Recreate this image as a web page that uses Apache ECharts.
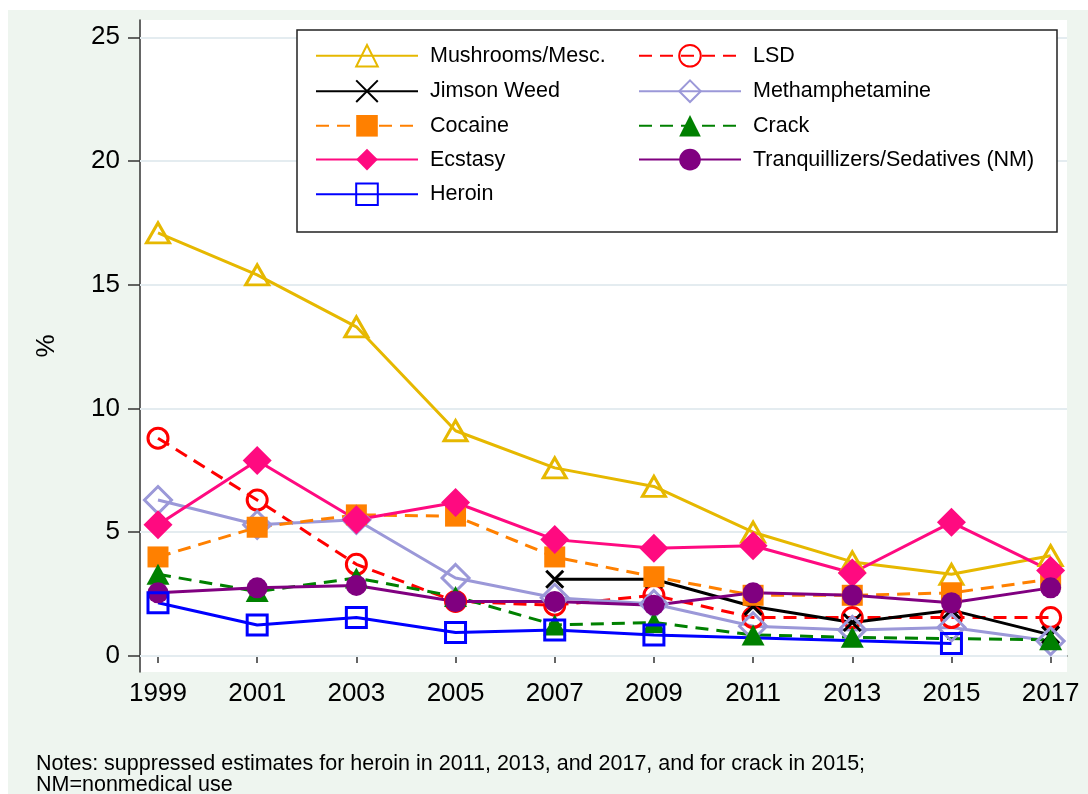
<!DOCTYPE html>
<html>
<head>
<meta charset="utf-8">
<script src="https://cdn.jsdelivr.net/npm/echarts@6/dist/echarts.min.js"></script>
<style>
  html, body { margin: 0; padding: 0; background: #fff; }
  #chart { width: 1088px; height: 794px; }
</style>
</head>
<body>
<div id="chart"></div>
<script>
// survey years and prevalence (%)
var years = [1999, 2001, 2003, 2005, 2007, 2009, 2011, 2013, 2015, 2017];
var yTicks = [0, 5, 10, 15, 20, 25];

var mushrooms = [17.1, 15.4, 13.3, 9.1, 7.6, 6.85, 5.0, 3.8, 3.3, 4.05];
var lsd       = [8.8, 6.3, 3.7, 2.2, 2.05, 2.45, 1.55, 1.55, 1.55, 1.55];
var jimson    = [null, null, null, null, 3.1, 3.1, 2.0, 1.35, 1.85, 0.85];
var meth      = [6.3, 5.3, 5.5, 3.15, 2.35, 2.1, 1.2, 1.05, 1.15, 0.6];
var cocaine   = [4.0, 5.2, 5.7, 5.65, 4.0, 3.2, 2.45, 2.45, 2.55, 3.1];
var crack     = [3.3, 2.6, 3.15, 2.4, 1.25, 1.35, 0.85, 0.75, null, 0.65];
var ecstasy   = [5.3, 7.9, 5.5, 6.2, 4.7, 4.35, 4.45, 3.35, 5.4, 3.45];
var tranq     = [2.55, 2.75, 2.85, 2.2, 2.2, 2.05, 2.55, 2.45, 2.15, 2.75];
var heroin    = [2.15, 1.25, 1.55, 0.95, 1.05, 0.85, null, null, 0.5, null];

var FONT = 'Liberation Sans, Arial, Helvetica, sans-serif';

function pairs(vals) {
    return years.map(function (y, i) { return [y, vals[i]]; });
}

function mkSeries(name, vals, color, symbol, size, hollow, dashed) {
    return {
        name: name,
        type: 'line',
        data: pairs(vals),
        connectNulls: true,
        symbol: symbol,
        symbolSize: size,
        showAllSymbol: true,
        lineStyle: { color: color, width: 3, type: dashed ? [13, 8] : 'solid' },
        itemStyle: hollow
            ? { color: 'transparent', borderColor: color, borderWidth: 3 }
            : { color: color, borderWidth: 0 },
        emphasis: { disabled: true },
        animation: false
    };
}

var chart = echarts.init(document.getElementById('chart'));

var series = [
    mkSeries('Mushrooms/Mesc.', mushrooms, '#e6b800', 'triangle', [23, 20], true, false),
    mkSeries('LSD', lsd, '#ff0000', 'circle', 20, true, true),
    mkSeries('Jimson Weed', jimson, '#000000', 'path://M0,0L10,10M10,0L0,10', 17, true, false),
    mkSeries('Methamphetamine', meth, '#9b98d8', 'diamond', 27, true, false),
    mkSeries('Cocaine', cocaine, '#ff8000', 'rect', 21, false, true),
    mkSeries('Crack', crack, '#008000', 'triangle', [23, 21], false, true),
    mkSeries('Ecstasy', ecstasy, '#ff0a80', 'diamond', 29, false, false),
    mkSeries('Tranquillizers/Sedatives (NM)', tranq, '#800080', 'circle', 21, false, false),
    mkSeries('Heroin', heroin, '#0000ff', 'rect', 20, true, false)
];

// light horizontal grid lines at the y ticks
series[0].markLine = {
    silent: true,
    symbol: 'none',
    label: { show: false },
    lineStyle: { color: '#e4ecf0', width: 2, type: 'solid' },
    z: 1,
    data: yTicks.map(function (v) { return { yAxis: v }; })
};

var legendBase = {
    orient: 'vertical',
    top: 39,
    itemWidth: 102,
    itemHeight: 27,
    itemGap: 11.8,
    z: 10,
    textStyle: { fontFamily: FONT, fontSize: 21.5, color: '#000', padding: [0, 0, 0, 7] }
};

var option = {
    backgroundColor: '#fff',
    animation: false,
    textStyle: { fontFamily: FONT },
    graphic: {
        elements: [
            { type: 'rect', z: -100, shape: { x: 8, y: 10, width: 1080, height: 784 },
              style: { fill: '#eef5ef' } },
            { type: 'rect', z: 9, shape: { x: 297, y: 30, width: 760, height: 202 },
              style: { fill: '#fff', stroke: '#222', lineWidth: 1.5 } }
        ]
    },
    title: {
        text: 'Notes: suppressed estimates for heroin in 2011, 2013, and 2017, and for crack in 2015;\nNM=nonmedical use',
        left: 36,
        top: 754,
        padding: 0,
        textStyle: { fontFamily: FONT, fontSize: 21.5, fontWeight: 'normal', color: '#000', lineHeight: 21 }
    },
    legend: [
        Object.assign({}, legendBase, { left: 310, data: ['Mushrooms/Mesc.', 'Jimson Weed', 'Cocaine', 'Ecstasy', 'Heroin'] }),
        Object.assign({}, legendBase, { left: 633, data: ['LSD', 'Methamphetamine', 'Crack', 'Tranquillizers/Sedatives (NM)'] })
    ],
    grid: {
        left: 140, right: 21, top: 20, bottom: 122,
        show: true, backgroundColor: '#fff', borderWidth: 0
    },
    xAxis: {
        type: 'value',
        min: 1998.637,
        max: 2017.33,
        axisLine: { show: true, lineStyle: { color: '#333', width: 1.5 } },
        axisTick: { show: true, length: 7, lineStyle: { color: '#333', width: 1.5 }, customValues: years },
        axisLabel: {
            customValues: years, fontSize: 26, color: '#000', margin: 9, fontFamily: FONT,
            formatter: function (v) { return String(v); }
        },
        splitLine: { show: false }
    },
    yAxis: {
        type: 'value',
        min: -0.65,
        max: 25.7,
        name: '%',
        nameLocation: 'middle',
        nameRotate: 90,
        nameGap: 80,
        nameTextStyle: { fontSize: 26, color: '#000', fontFamily: FONT },
        axisLine: { show: true, lineStyle: { color: '#333', width: 1.5 } },
        axisTick: { show: true, length: 12, lineStyle: { color: '#333', width: 1.5 }, customValues: yTicks },
        axisLabel: { customValues: yTicks, fontSize: 26, color: '#000', margin: 20, fontFamily: FONT },
        splitLine: { show: false }
    },
    series: series
};

chart.setOption(option);
</script>
</body>
</html>
